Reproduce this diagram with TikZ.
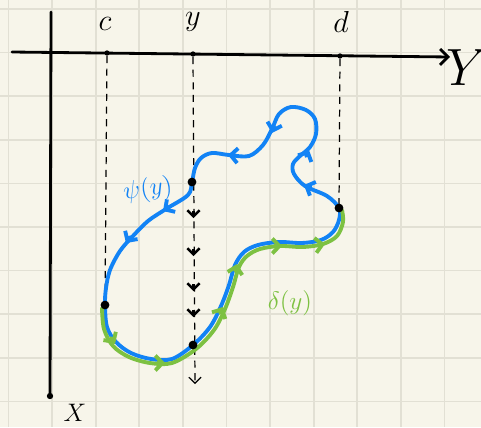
\documentclass[tikz,border=0pt]{standalone}
\usepackage{amsmath}
\usepackage{graphicx}
\usepackage{tikz}
\usetikzlibrary{arrows.meta}
\definecolor{paper}{HTML}{F7F5EA}
\definecolor{gridline}{HTML}{E2E0D4}
\definecolor{curveblue}{HTML}{1283F5}
\definecolor{curvegreen}{HTML}{7DC142}
\tikzset{
  sheetgrid/.style={draw=gridline, line width=1pt},
  axisline/.style={line width=1.6pt, line cap=round},
  dropline/.style={line width=0.7pt, dash pattern=on 4pt off 3.2pt},
  dot/.style={circle, fill=black, inner sep=0pt, minimum size=5pt},
  tinydot/.style={circle, fill=black, inner sep=0pt, minimum size=3pt},
  psicurve/.style={draw=curveblue, line width=2.2pt, line cap=round, line join=round},
  deltacurve/.style={draw=curvegreen, line width=2.2pt, line cap=round, line join=round},
  barb/.style={-{Straight Barb[length=4pt,width=8.5pt]}},
  dropbarb/.style={-{Straight Barb[length=3.4pt,width=7pt]}, line width=1.4pt},
  lbl/.style={inner sep=0pt, font=\LARGE}
}

\begin{document}
\begin{tikzpicture}[x=0.02cm, y=-0.02cm]
  \useasboundingbox (0,0) rectangle (481,427);
  \fill[paper] (0,0) rectangle (481,427);
  % squared paper
  \foreach \gx in {0,...,10}
    \draw[sheetgrid] ({8.5+43.6*\gx},0) -- ({8.5+43.6*\gx},427);
  \foreach \gy in {0,...,9}
    \draw[sheetgrid] (0,{9+43.6*\gy}) -- (481,{9+43.6*\gy});

  % axes
  \coordinate (haxL) at (12,52);
  \coordinate (haxR) at (450,57);
  \coordinate (vaxT) at (51,12);
  \node[tinydot, minimum size=3.6pt] (vaxB) at (50,396) {};
  \draw[axisline, -{Straight Barb[length=4.5pt,width=9pt]}] (haxL) -- (haxR);
  \draw[axisline] (vaxT) -- (vaxB.center);

  % points on the axis and on the curve
  \node[tinydot] (tc) at (107,53) {};
  \node[tinydot] (ty) at (193,54) {};
  \node[tinydot] (td) at (340,56) {};
  \coordinate (pc) at (105,305);
  \coordinate (py) at (192,182);
  \coordinate (pd) at (339,208);
  \coordinate (pq) at (193,345);
  \coordinate (dropend) at (195,384);

  % drop lines
  \draw[dropline] (tc) -- (pc);
  \draw[dropline] (td) -- (pd);
  \draw[dropline, -{Straight Barb[length=3.4pt,width=7pt]}] (ty) -- (dropend);
  \foreach \ty in {218,256,291,317}
    \draw[dropbarb] (193.5,\ty-7) -- (193.5,\ty);

  % psi(y): closed blue curve
  \draw[psicurve] plot[smooth cycle, tension=0.55] coordinates {
    (pd) (327,196) (305,186) (294,174) (293,164) (300,156) (310,147)
    (316,134) (315,119) (306,110) (291,107) (279,114) (272,129) (263,145)
    (249,156) (229,155) (212,153) (201,158) (195,168) (py) (188,195)
    (166,209) (148,221) (133,236) (120,251) (110,270) (106,288) (pc)
    (107,327) (116,342) (131,353) (151,359) (172,359) (pq) (210,327)
    (221,306) (229,285) (235,265) (244,252) (258,245) (279,242) (302,243)
    (321,240) (333,232) (339,220)};
  \draw[psicurve, barb] (311,188) -- (304,185);
  \draw[psicurve, barb] (306,156) -- (309,150);
  \draw[psicurve, barb] (274,126) -- (272,133);
  \draw[psicurve, barb] (235,155.5) -- (228,155);
  \draw[psicurve, barb] (169,207) -- (163,211);
  \draw[psicurve, barb] (130,237) -- (126,243);

  % delta(y): green lower branch
  \draw[deltacurve] plot[smooth, tension=0.55] coordinates {
    (102,308) (104,329) (113,346) (129,357) (150,363) (172,363) (196,349)
    (214,330) (225,309) (233,287) (239,267) (247,256) (260,249) (280,246)
    (303,247) (323,244) (337,236) (343,222) (342,210)};
  \draw[deltacurve, barb] (111,338) -- (115,344);
  \draw[deltacurve, barb] (158,363) -- (165,363);
  \draw[deltacurve, barb] (220,313) -- (223,307);
  \draw[deltacurve, barb] (235.5,271) -- (237,264);
  \draw[deltacurve, barb] (275,246) -- (282,246);
  \draw[deltacurve, barb] (318,245) -- (325,244);

  % marked points on top of the curves
  \node[dot] (dc) at (pc) {};
  \node[dot] (dy) at (py) {};
  \node[dot] (dd) at (pd) {};
  \node[dot] (dq) at (pq) {};

  % labels
  \node[lbl] (lc) at (105,24) {$c$};
  \node[lbl] (ly) at (193,22) {$y$};
  \node[lbl] (ld) at (341,22) {$d$};
  \node[inner sep=0pt] (lY) at (467,68) {\scalebox{1.2}{\Huge $Y$}};
  \node[inner sep=0pt, font=\Large] (lX) at (75,413) {$X$};
  \node[text=curveblue, font=\Large, rotate=8] (lpsi) at (148,190) {$\psi(y)$};
  \node[text=curvegreen, font=\Large] (ldelta) at (290,303) {$\delta(y)$};
\end{tikzpicture}
\end{document}
